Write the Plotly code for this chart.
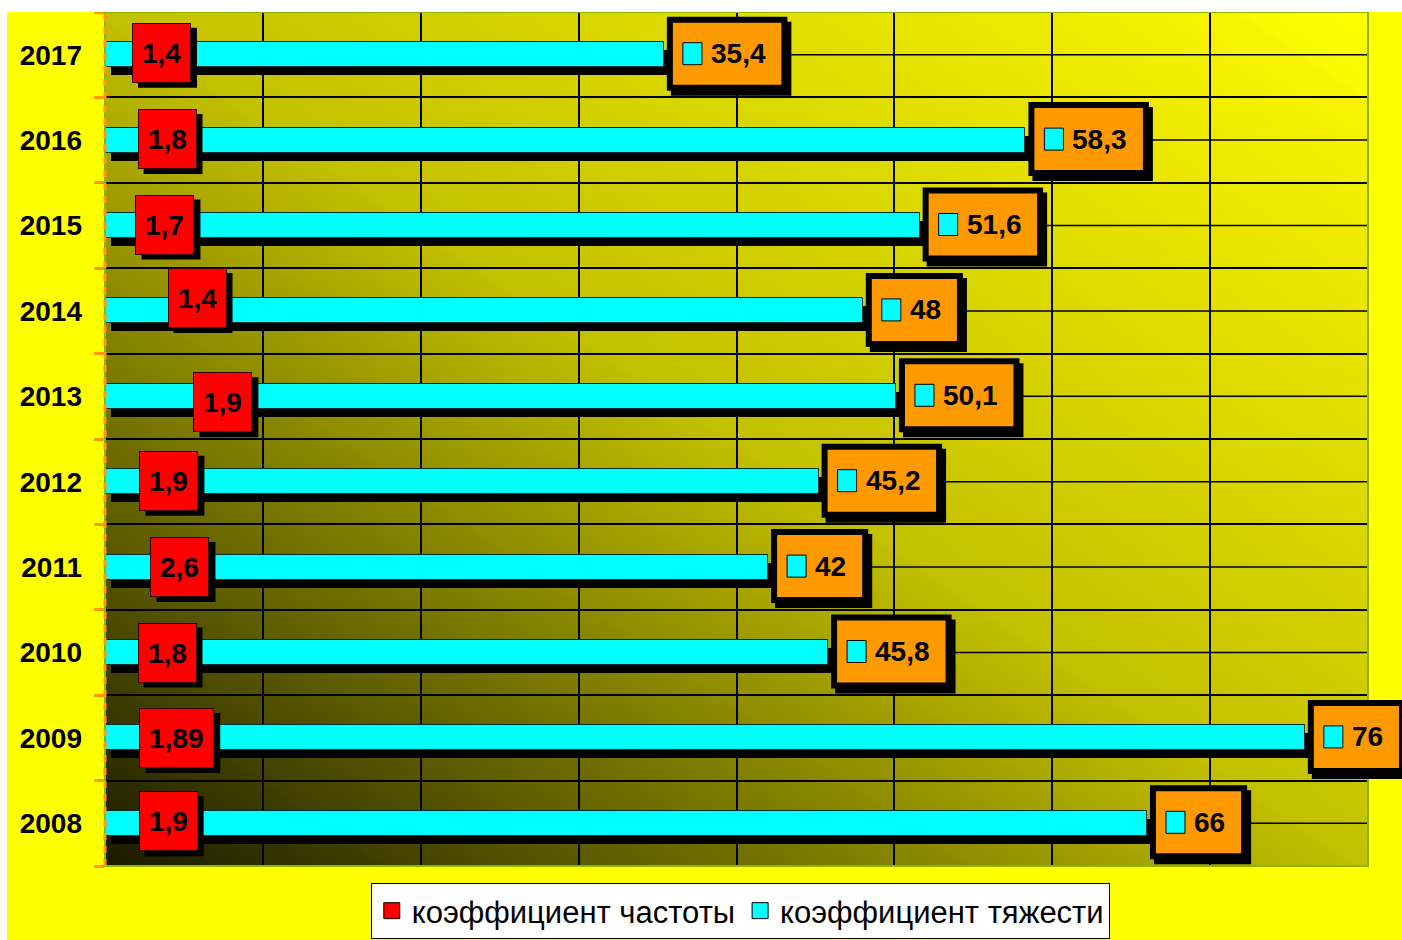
import zlib, struct, base64
import plotly.graph_objects as go

# ---------------- data ----------------
years = ['2008', '2009', '2010', '2011', '2012', '2013', '2014', '2015', '2016', '2017']
severity = [66, 76, 45.8, 42, 45.2, 50.1, 48, 51.6, 58.3, 35.4]       # коэффициент тяжести
frequency = [1.9, 1.89, 1.8, 2.6, 1.9, 1.9, 1.4, 1.7, 1.8, 1.4]       # коэффициент частоты
series_names = ['коэффициент частоты', 'коэффициент тяжести']

# label placement for the frequency value boxes (x in axis units, y shift in px)
freq_label_x = [4.0, 4.56, 3.93, 4.75, 4.05, 7.47, 5.83, 3.8, 3.93, 3.58]
freq_label_dy = [2, 0, 0, 0, 1, -6, 13, 1, 1, 2]

XMAX = 80
W, H = 1402, 940
ML, MR, MT, MB = 105, 34, 12, 74
PW, PH = W - ML - MR, H - MT - MB

FONT = 'Liberation Sans, Arial, sans-serif'
CYAN = '#00FFFF'
RED = '#FF0000'
ORANGE = '#FF9900'


def fmt(v):
    return ('%g' % v).replace('.', ',')


# ---------------- gradient background (pure-python PNG) ----------------
def make_png(w, h):
    raw = bytearray()
    for j in range(h):
        raw.append(0)
        v = 1 - j / (h - 1)
        for i in range(w):
            u = i / (w - 1)
            t = (u + v) / 2
            if t < 0.5:
                r = 28 + (196 - 28) * t / 0.5
            else:
                r = 196 + (255 - 196) * (t - 0.5) / 0.5
            g = r * 0.985 if t < 0.95 else r
            raw += bytes([int(r), int(g), 0])

    def chunk(tag, data):
        c = struct.pack('>I', len(data)) + tag + data
        return c + struct.pack('>I', zlib.crc32(tag + data) & 0xffffffff)

    png = (b'\x89PNG\r\n\x1a\n'
           + chunk(b'IHDR', struct.pack('>IIBBBBB', w, h, 8, 2, 0, 0, 0))
           + chunk(b'IDAT', zlib.compress(bytes(raw), 9))
           + chunk(b'IEND', b''))
    return 'data:image/png;base64,' + base64.b64encode(png).decode()


bg_src = make_png(160, 160)

# ---------------- traces ----------------
BAR_W = 0.293
shadow_dy = 8 / (PH / len(years))
shadow_dx = 6 * XMAX / PW

fig = go.Figure()
# drop shadow of severity bars
fig.add_trace(go.Bar(
    y=years, x=severity, orientation='h', base=shadow_dx,
    width=BAR_W, offset=-BAR_W / 2 - shadow_dy,
    marker=dict(color='black', line=dict(width=0)),
    showlegend=False, hoverinfo='skip'))
fig.add_trace(go.Bar(
    y=years, x=frequency, orientation='h', name=series_names[0],
    width=BAR_W, offset=-BAR_W / 2, showlegend=False, legendgroup='f',
    marker=dict(color=RED, line=dict(color='#200000', width=1))))
fig.add_trace(go.Bar(
    y=years, x=severity, orientation='h', name=series_names[1],
    width=BAR_W, offset=-BAR_W / 2, showlegend=False, legendgroup='s',
    marker=dict(color=CYAN, line=dict(color='#003030', width=1))))
# legend keys (larger squares than bar legend symbols)
for nm, col, grp in [(series_names[0], RED, 'f'), (series_names[1], CYAN, 's')]:
    fig.add_trace(go.Scatter(
        x=[None], y=[None], mode='markers', name=nm, legendgroup=grp,
        marker=dict(symbol='square', size=16, color=col, line=dict(color='black', width=1)),
        hoverinfo='skip'))

shapes = []
annotations = []

# plot border (green) and dashed orange axis line
shapes.append(dict(type='rect', xref='paper', yref='paper', x0=0, x1=1, y0=0, y1=1,
                   line=dict(color='#8DB400', width=2), layer='above'))
shapes.append(dict(type='line', xref='paper', yref='paper', x0=0, x1=0, y0=0, y1=1,
                   line=dict(color=ORANGE, width=3, dash='7px,6px'), layer='above'))
# white strips at the image edges
shapes.append(dict(type='rect', xref='paper', yref='paper',
                   x0=-ML / PW - 0.01, x1=(7 - ML) / PW, y0=-MB / PH - 0.01, y1=1 + MT / PH + 0.01,
                   fillcolor='white', line=dict(width=0), layer='above'))
shapes.append(dict(type='rect', xref='paper', yref='paper',
                   x0=-ML / PW - 0.01, x1=1 + MR / PW + 0.01, y0=1, y1=1 + MT / PH + 0.01,
                   fillcolor='white', line=dict(width=0), layer='above'))

# center gridlines for each category (category index positions)
for k in range(len(years)):
    shapes.append(dict(type='line', xref='paper', yref='y', x0=0, x1=1, y0=k, y1=k,
                       line=dict(color='black', width=1.5), layer='between'))

DIG = 0.556 * 28
COM = 0.278 * 28


def text_w(s):
    return sum(DIG if c.isdigit() else COM for c in s)


for k in range(len(years)):
    lab = fmt(severity[k])
    inner = text_w(lab) + 54
    xa = severity[k] / XMAX
    # shadow
    shapes.append(dict(type='rect', xref='paper', yref='y', xsizemode='pixel', ysizemode='pixel',
                       xanchor=xa, yanchor=k,
                       x0=3 + 4, x1=inner + 15 + 4, y0=1 - 37 - 5, y1=1 + 37 - 5,
                       fillcolor='black', line=dict(width=0), layer='above'))
    # orange box with thick black border
    shapes.append(dict(type='rect', xref='paper', yref='y', xsizemode='pixel', ysizemode='pixel',
                       xanchor=xa, yanchor=k,
                       x0=6, x1=inner + 12, y0=1 - 34, y1=1 + 34,
                       fillcolor=ORANGE, line=dict(color='black', width=6), layer='above'))
    # legend-key square
    shapes.append(dict(type='rect', xref='paper', yref='y', xsizemode='pixel', ysizemode='pixel',
                       xanchor=xa, yanchor=k,
                       x0=19, x1=38, y0=1 - 11, y1=1 + 11,
                       fillcolor=CYAN, line=dict(color='black', width=1), layer='above'))
    annotations.append(dict(x=severity[k], y=k, xref='x', yref='y', text=lab,
                            xanchor='left', yanchor='middle', xshift=45, yshift=1,
                            showarrow=False,
                            font=dict(family=FONT, size=28, color='black', weight='bold')))

for k in range(len(years)):
    lab = fmt(frequency[k])
    half_w = (text_w(lab) + 20) / 2
    dy = freq_label_dy[k]
    # drop shadow of the red label box
    shapes.append(dict(type='rect', xref='paper', yref='y', xsizemode='pixel', ysizemode='pixel',
                       xanchor=freq_label_x[k] / XMAX, yanchor=k,
                       x0=-half_w + 6, x1=half_w + 6, y0=dy - 5 - 30, y1=dy - 5 + 30,
                       fillcolor='black', line=dict(width=0), layer='above'))
    annotations.append(dict(x=freq_label_x[k], y=k, xref='x', yref='y', text=lab,
                            xanchor='center', yanchor='middle', showarrow=False,
                            borderpad=9, height=40, yshift=dy,
                            bgcolor=RED, bordercolor='#300000', borderwidth=1,
                            font=dict(family=FONT, size=28, color='black', weight='bold')))

fig.update_layout(
    width=W, height=H,
    margin=dict(l=ML, r=MR, t=MT, b=MB, pad=0, autoexpand=False),
    paper_bgcolor='#FFFF00',
    plot_bgcolor='rgba(0,0,0,0)',
    barmode='overlay',
    bargap=0,
    shapes=shapes,
    annotations=annotations,
    images=[dict(source=bg_src, xref='paper', yref='paper', x=0, y=1, sizex=1, sizey=1,
                 xanchor='left', yanchor='top', sizing='stretch', layer='below')],
    xaxis=dict(range=[0, XMAX], dtick=10, tick0=0, showgrid=True, gridcolor='black',
               gridwidth=1.5, showticklabels=False, zeroline=False, showline=False,
               ticks=''),
    yaxis=dict(type='category', categoryorder='array', categoryarray=years,
               range=[-0.5, len(years) - 0.5], autorange=False,
               tickson='boundaries', ticks='outside', ticklen=10, tickwidth=3,
               tickcolor=ORANGE, showgrid=True, gridcolor='black', gridwidth=1.5,
               showline=False, zeroline=False, ticklabelstandoff=22,
               tickfont=dict(family=FONT, size=28, color='black', weight='bold')),
    legend=dict(orientation='h', x=0.503, xanchor='center', y=-17 / PH, yanchor='top',
                bgcolor='white', bordercolor='black', borderwidth=1,
                font=dict(family=FONT, size=31, color='black'),
                itemwidth=30, traceorder='normal', itemclick=False, itemdoubleclick=False),
    showlegend=True,
)

fig.write_html('out.html',
               config={'displayModeBar': False},
               post_script="document.body.style.margin='0';document.body.style.padding='0';"
                           "document.body.style.overflow='hidden';")
